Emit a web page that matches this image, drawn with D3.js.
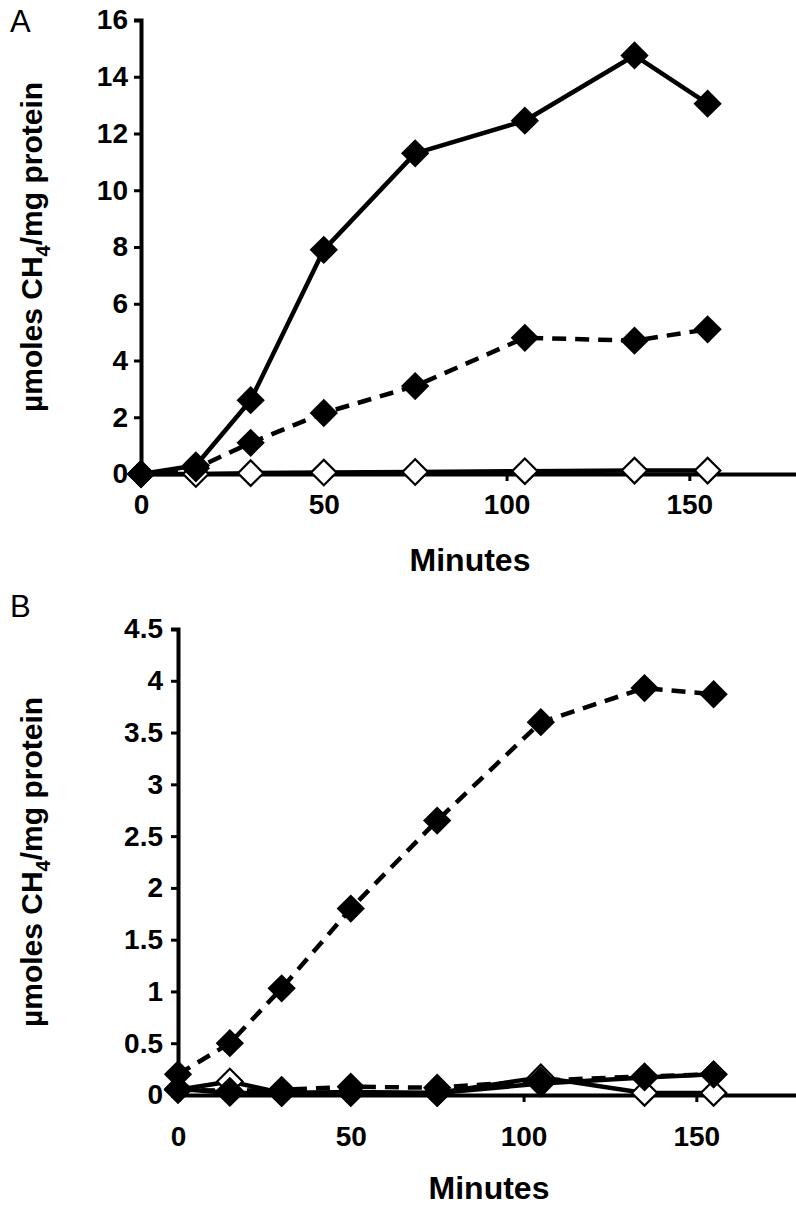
<!DOCTYPE html>
<html><head><meta charset="utf-8">
<script src="https://cdn.jsdelivr.net/npm/d3@7"></script>
<style>body{margin:0;background:#fff}svg{display:block}</style>
</head><body>
<svg id="c" width="796" height="1212"></svg>
<script>
// ---------- data ----------
const minutes = [0, 15, 30, 50, 75, 105, 135, 155];
const xTicks = [0, 50, 100, 150];

// Panel A
const aFilledSolid  = [0.0, 0.3, 2.6, 7.9, 11.3, 12.45, 14.75, 13.05];
const aFilledDashed = [0.0, 0.2, 1.1, 2.15, 3.1, 4.8, 4.7, 5.1];
const aOpenSolid    = [0.0, 0.0, 0.03, 0.05, 0.07, 0.1, 0.12, 0.12];
const aYTicks = [0, 2, 4, 6, 8, 10, 12, 14, 16];

// Panel B
const bFilledDashed = [0.2, 0.5, 1.03, 1.8, 2.65, 3.6, 3.93, 3.87];
const bFilledDashed2 = [0.05, 0.04, 0.05, 0.08, 0.07, 0.14, 0.18, 0.2];
const bFilledSolid  = [0.06, 0.02, 0.02, 0.03, 0.02, 0.11, 0.17, 0.2];
const bOpenSolid    = [0.05, 0.13, 0.02, 0.02, 0.02, 0.17, 0.02, 0.02];
const bYTicks = [0, 0.5, 1, 1.5, 2, 2.5, 3, 3.5, 4, 4.5];

const svg = d3.select("#c");
const FONT = "'Liberation Sans', Arial, sans-serif";

function panel(cfg) {
  const g = svg.append("g");
  const x = d3.scaleLinear().domain([0, 180]).range([cfg.x0, cfg.x1]);
  const y = d3.scaleLinear().domain(cfg.yDomain).range([cfg.y0, cfg.y1]);

  // series lines
  const line = d3.line().x((d, i) => x(minutes[i])).y(d => y(d));
  cfg.series.forEach(s => {
    g.append("path").datum(s.values)
      .attr("d", line).attr("fill", "none").attr("stroke", "#000")
      .attr("stroke-width", 4.5)
      .attr("stroke-dasharray", s.dashed ? "14,9" : null)
      .attr("stroke-linejoin", "round");
  });

  // axes
  const yAxis = d3.axisLeft(y).tickValues(cfg.yTicks).tickSize(7).tickPadding(cfg.yPad)
    .tickFormat(d3.format("~g"));
  const ya = g.append("g").attr("transform", `translate(${cfg.x0},0)`).call(yAxis);
  const xAxis = d3.axisBottom(x).tickValues(xTicks).tickSize(7).tickPadding(cfg.xPad);
  const xa = g.append("g").attr("transform", `translate(0,${cfg.y0})`).call(xAxis);
  [ya, xa].forEach(a => {
    a.select(".domain").attr("stroke", "#000").attr("stroke-width", 4);
    a.selectAll(".tick line").attr("stroke", "#000").attr("stroke-width", 3);
    a.selectAll("text").attr("font-family", FONT).attr("font-size", 28)
      .attr("font-weight", "bold").attr("fill", "#000");
  });

  // markers (drawn over axes)
  cfg.series.forEach(s => {
    const h = s.open ? 9 : 10;
    g.selectAll(null).data(s.values).enter().append("rect")
      .attr("x", -h).attr("y", -h).attr("width", 2 * h).attr("height", 2 * h)
      .attr("transform", (d, i) => `translate(${x(minutes[i])},${y(d)}) rotate(45)`)
      .attr("fill", s.open ? "#fff" : "#000")
      .attr("stroke", "#000").attr("stroke-width", s.open ? 2.2 : 0);
  });

  // panel letter
  g.append("text").attr("x", 10).attr("y", cfg.letterY).text(cfg.letter)
    .attr("font-family", FONT).attr("font-size", 31).attr("fill", "#000");

  // y title
  const t = g.append("text")
    .attr("transform", `translate(${cfg.titleX},${(cfg.y0 + cfg.y1) / 2}) rotate(-90)`)
    .attr("text-anchor", "middle").attr("font-family", FONT)
    .attr("font-size", 30).attr("font-weight", "bold").attr("fill", "#000");
  t.append("tspan").text("µmoles CH");
  t.append("tspan").text("4").attr("font-size", 20).attr("dy", 8);
  t.append("tspan").text("/mg protein").attr("dy", -8);

  // x title
  g.append("text").attr("x", (cfg.x0 + cfg.x1) / 2).attr("y", cfg.xTitleY)
    .attr("text-anchor", "middle").attr("font-family", FONT)
    .attr("font-size", 32).attr("font-weight", "bold").attr("fill", "#000")
    .text("Minutes");
}

panel({
  x0: 141, x1: 799, y0: 474, y1: 20, yDomain: [0, 16], yTicks: aYTicks, yPad: 6, xPad: 13,
  letter: "A", letterY: 32, titleX: 42, xTitleY: 571,
  series: [
    { values: aOpenSolid, dashed: false, open: true },
    { values: aFilledDashed, dashed: true, open: false },
    { values: aFilledSolid, dashed: false, open: false }
  ]
});

panel({
  x0: 178, x1: 800, y0: 1095, y1: 629, yDomain: [0, 4.5], yTicks: bYTicks, yPad: 8, xPad: 24,
  letter: "B", letterY: 617, titleX: 42, xTitleY: 1199,
  series: [
    { values: bOpenSolid, dashed: false, open: true },
    { values: bFilledSolid, dashed: false, open: false },
    { values: bFilledDashed2, dashed: true, open: false },
    { values: bFilledDashed, dashed: true, open: false }
  ]
});
</script>
</body></html>
